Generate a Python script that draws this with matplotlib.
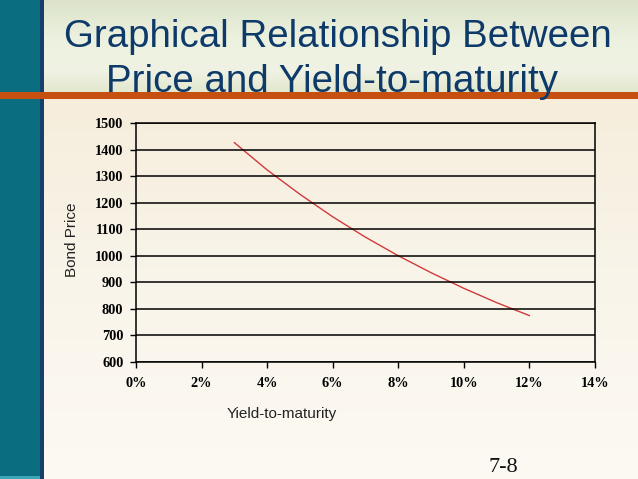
import numpy as np
import matplotlib
matplotlib.use("Agg")
import matplotlib.pyplot as plt
from matplotlib.patches import Rectangle
from matplotlib.ticker import FuncFormatter

# ---- data ----
ytm = [0.03, 0.04, 0.05, 0.06, 0.07, 0.08, 0.09, 0.10, 0.11, 0.12]
bond_price = [1427, 1324, 1232, 1147, 1070, 1000, 936, 877, 823, 774]
x_ticks = [0.00, 0.02, 0.04, 0.06, 0.08, 0.10, 0.12, 0.14]
y_ticks = [600, 700, 800, 900, 1000, 1100, 1200, 1300, 1400, 1500]
title_lines = ["Graphical Relationship Between", "Price and Yield-to-maturity"]
x_label = "Yield-to-maturity"
y_label = "Bond Price"
slide_no = "7-8"

W, H = 638, 479
fig = plt.figure(figsize=(W / 100, H / 100), dpi=100)

# ---- slide background gradient ----
bg = fig.add_axes([0, 0, 1, 1], zorder=-10)
bg.set_axis_off()
rows = np.arange(H)
def interp(stops):
    ys = [s[0] for s in stops]
    cols = np.array([s[1] for s in stops])
    return np.stack([np.interp(rows, ys, cols[:, k]) for k in range(3)], axis=1)
grad = interp([
    (0, (0.86, 0.89, 0.79)),
    (40, (0.93, 0.95, 0.88)),
    (70, (0.94, 0.95, 0.89)),
    (91, (0.89, 0.91, 0.81)),
    (99, (0.965, 0.93, 0.86)),
    (250, (0.975, 0.955, 0.91)),
    (478, (0.99, 0.98, 0.955)),
])
img = np.repeat(grad[:, None, :], W, axis=1)
bg.imshow(img, extent=[0, W, H, 0], aspect="auto")
bg.set_xlim(0, W)
bg.set_ylim(H, 0)
bg.add_patch(Rectangle((0, 0), 40, H, color="#0b6e80", lw=0))
bg.add_patch(Rectangle((40, 0), 4, H, color="#173f6b", lw=0))
bg.add_patch(Rectangle((0, 92), W, 6.5, color="#c5500f", lw=0))
bg.add_patch(Rectangle((0, 476), 40, 3, color="#3aa6b8", lw=0))

# ---- title ----
fig.text(338 / W, 1 - 47 / H, title_lines[0], ha="center", va="baseline",
         fontsize=27.7, family="Liberation Sans", color="#0e3a6a")
fig.text(332 / W, 1 - 92 / H, title_lines[1], ha="center", va="baseline",
         fontsize=27.7, family="Liberation Sans", color="#0e3a6a")

# ---- chart ----
left, right, top, bottom = 136, 595, 123.3, 361.7
ax = fig.add_axes([left / W, 1 - bottom / H, (right - left) / W, (bottom - top) / H])
ax.patch.set_alpha(0)
ax.plot(ytm, bond_price, color="#d03a3a", lw=1.0)
ax.set_xlim(0, 0.14)
ax.set_ylim(600, 1500)
ax.set_xticks(x_ticks)
ax.set_yticks(y_ticks)
ax.xaxis.set_major_formatter(FuncFormatter(lambda v, p: f"{round(v * 100)}%"))
ax.grid(axis="y", color="black", lw=1.1)
ax.set_axisbelow(False)
for s in ax.spines.values():
    s.set_color("black")
    s.set_linewidth(1.1)
ax.tick_params(axis="both", direction="out", length=4, width=1.0, color="black")
ax.tick_params(axis="x", pad=7)
ax.tick_params(axis="y", pad=5)
for lab in ax.get_xticklabels() + ax.get_yticklabels():
    lab.set_fontfamily("Liberation Serif")
    lab.set_fontweight("bold")
    lab.set_fontsize(10.3)
    lab.set_color("black")

fig.text(72 / W, 1 - 240 / H, y_label, rotation=90, ha="center", va="center",
         fontsize=11, family="Liberation Sans", color="#222222")
fig.text(282 / W, 1 - 414 / H, x_label, ha="center", va="center",
         fontsize=11, family="Liberation Sans", color="#222222")

fig.text(503 / W, 1 - 472 / H, slide_no, ha="center", va="baseline",
         fontsize=16, family="Liberation Serif", color="#111111")

fig.savefig("out.png", dpi=100)
